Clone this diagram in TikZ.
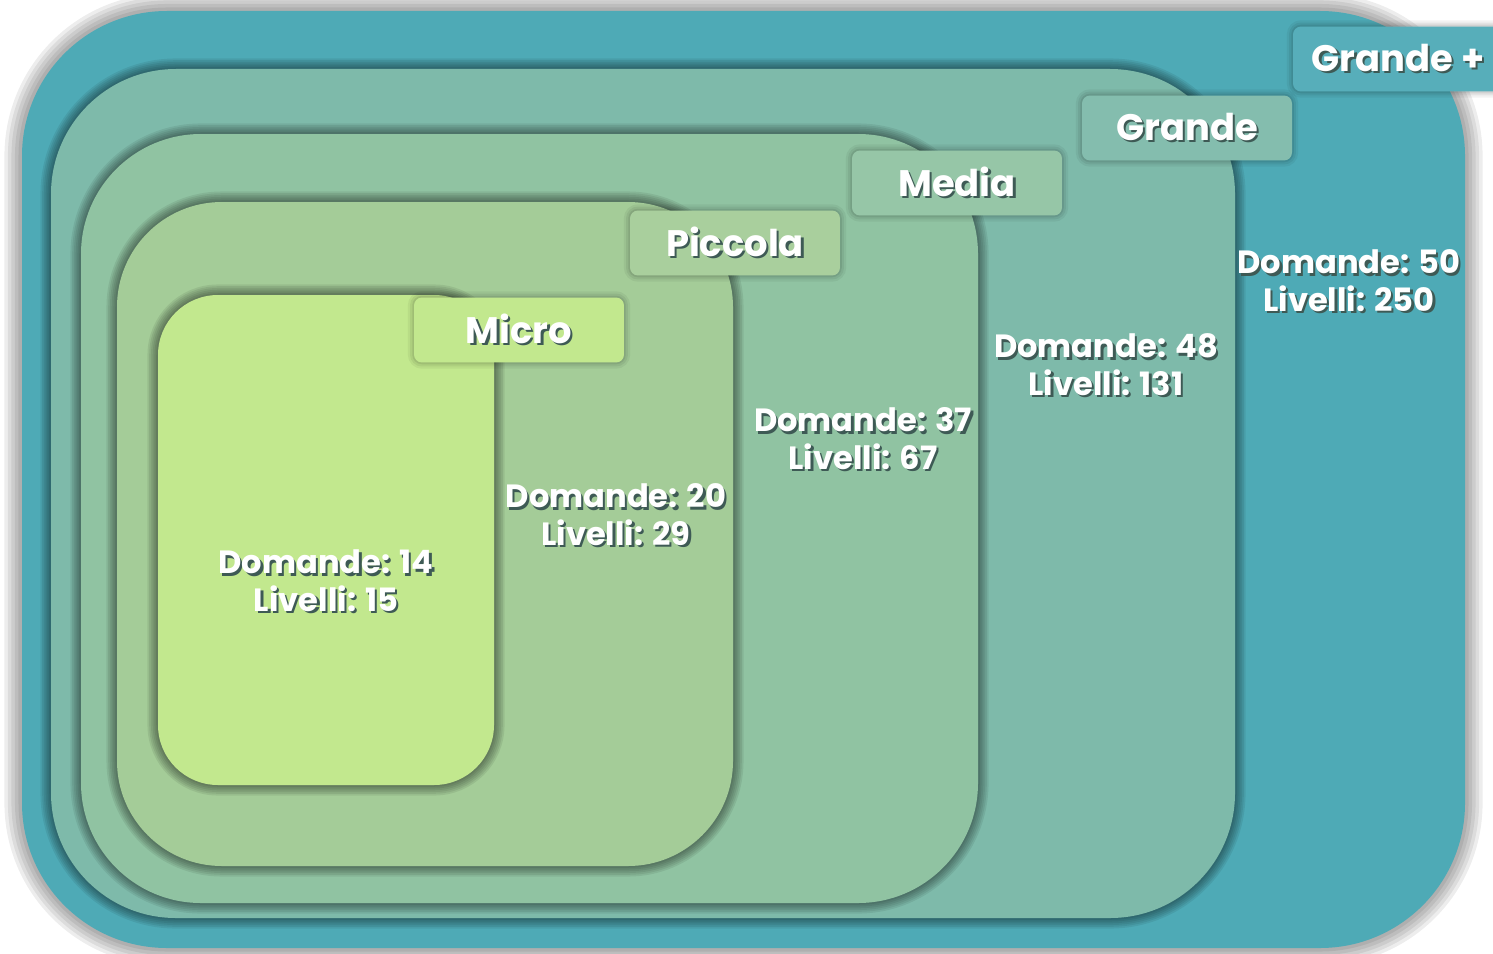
\documentclass[tikz,border=0pt]{standalone}
\usepackage{fontspec}
\setmainfont{Poppins}
\usepackage{tikz}

\definecolor{gplus}{HTML}{4EAAB6}
\definecolor{grande}{HTML}{7EBAAA}
\definecolor{media}{HTML}{90C3A2}
\definecolor{piccola}{HTML}{A4CC98}
\definecolor{micro}{HTML}{C2E88E}
\definecolor{txtshade}{HTML}{3E5A55}

\newcommand{\shtext}[1]{\rlap{\kern1.3pt\raisebox{-1.3pt}{\textcolor{txtshade}{#1}}}#1}

\tikzset{
  soft/.style={preaction={draw=black, opacity=#1, line width=12pt},
               preaction={draw=black, opacity=#1, line width=10pt},
               preaction={draw=black, opacity=#1, line width=8pt},
               preaction={draw=black, opacity=#1, line width=6pt},
               preaction={draw=black, opacity=#1, line width=4pt},
               preaction={draw=black, opacity=#1, line width=2pt}},
  wide soft/.style={preaction={draw=black, opacity=#1, line width=20pt},
               preaction={draw=black, opacity=#1, line width=16pt},
               preaction={draw=black, opacity=#1, line width=12pt},
               preaction={draw=black, opacity=#1, line width=8pt},
               preaction={draw=black, opacity=#1, line width=4pt}}
}

\begin{document}
\begin{tikzpicture}
  [ x=0.02cm, y=-0.02cm
  , panel/.style={soft=0.075}
  , tab/.style={rectangle, rounded corners=0.16cm, minimum width=4.2cm, minimum height=1.3cm,
                text=white, font=\fontsize{21}{25}\selectfont\bfseries,
                preaction={draw=black, opacity=0.05, line width=7pt},
                preaction={draw=black, opacity=0.06, line width=4.5pt},
                preaction={draw=black, opacity=0.08, line width=2pt}}
  , stat/.style={align=center, text=white, font=\fontsize{18.3}{21.5}\selectfont\bfseries}]
  \fill[white] (0,0) rectangle (1493,953);
  \useasboundingbox (0,0) rectangle (1493,953);
  % nested levels
  \fill[wide soft=0.07, fill=gplus, rounded corners=2.9cm] (22,11) rectangle (1465,948);
  \fill[panel, fill=grande, rounded corners=2.5cm] (51,69) rectangle (1235,918);
  \fill[panel, fill=media, rounded corners=2.4cm] (81,134) rectangle (978,903);
  \fill[panel, fill=piccola, rounded corners=2.1cm] (117,202) rectangle (733,866);
  \fill[panel, fill=micro, rounded corners=1.2cm] (158,295) rectangle (494,785);
  % tabs
  \node (gplus-tab) at (1398,59) [tab, fill=gplus!95!white] {\shtext{Grande +}};
  \node (grande-tab) at (1187,128) [tab, fill=grande!95!white] {\shtext{Grande}};
  \node (media-tab) at (957,183) [tab, fill=media!95!white] {\shtext{Media}};
  \node (piccola-tab) at (735,243) [tab, fill=piccola!95!white] {\shtext{Piccola}};
  \node (micro-tab) at (519,330) [tab, fill=micro] {\shtext{Micro}};
  % counts
  \node (micro-val) at (326,582) [stat] {\shtext{Domande: 14}\\\shtext{Livelli: 15}};
  \node (piccola-val) at (616,516) [stat] {\shtext{Domande: 20}\\\shtext{Livelli: 29}};
  \node (media-val) at (863,440) [stat] {\shtext{Domande: 37}\\\shtext{Livelli: 67}};
  \node (grande-val) at (1106,366) [stat] {\shtext{Domande: 48}\\\shtext{Livelli: 131}};
  \node (gplus-val) at (1349,282) [stat] {\shtext{Domande: 50}\\\shtext{Livelli: 250}};
\end{tikzpicture}
\end{document}
